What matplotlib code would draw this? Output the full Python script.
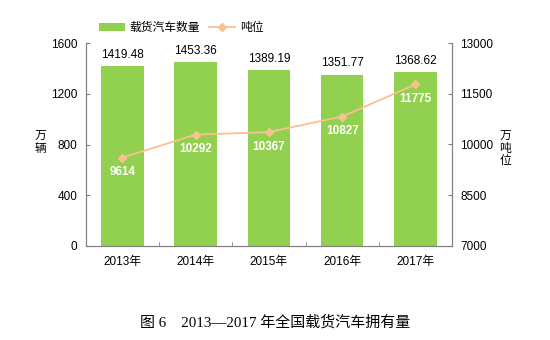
import matplotlib
matplotlib.use('Agg')
import matplotlib.pyplot as plt
import numpy as np

plt.rcParams['font.family'] = ['Liberation Sans', 'Noto Sans CJK SC', 'DejaVu Sans']

years = ['2013年', '2014年', '2015年', '2016年', '2017年']
trucks = [1419.48, 1453.36, 1389.19, 1351.77, 1368.62]
tonnage = [9614, 10292, 10367, 10827, 11775]

bar_color = '#92D050'
line_color = '#F9C18F'

fig = plt.figure(figsize=(5.5, 3.4), dpi=100)
ax = fig.add_axes([0.156, 0.2765, 0.666, 0.597])
x = np.arange(len(years))

ax.bar(x, trucks, width=0.58, color=bar_color, label='载货汽车数量', zorder=2)
for xi, v in zip(x, trucks):
    ax.text(xi, v + 40, f'{v:.2f}', ha='center', va='bottom', fontsize=8.5)

ax.set_ylim(0, 1600)
ax.set_yticks([0, 400, 800, 1200, 1600])
ax.set_xlim(-0.5, 4.5)
ax.set_xticks(x)
ax.set_xticklabels(years)
ax.set_xticks(np.arange(-0.5, 5, 1), minor=True)
ax.tick_params(axis='y', direction='in', length=3, labelsize=8.5, pad=6, color='#808080')
ax.tick_params(axis='x', which='major', length=0, labelsize=8.5, pad=7)
ax.tick_params(axis='x', which='minor', direction='in', length=3, color='#808080')
ax.spines['top'].set_visible(False)
for s in ['left', 'bottom', 'right']:
    ax.spines[s].set_color('#808080')
ax.set_ylabel('万\n辆', rotation=0, fontsize=8.5, va='center', linespacing=1.1)
ax.yaxis.set_label_coords(-0.125, 0.51)

ax2 = ax.twinx()
ax2.plot(x, tonnage, color=line_color, marker='D', markersize=3.8, lw=1.3, label='吨位', zorder=3)
for xi, v in zip(x, tonnage):
    ax2.annotate(f'{v}', (xi, v), xytext=(0, -10.5), textcoords='offset points',
                 ha='center', va='center', color='white', fontsize=8.5, fontweight='bold')
ax2.set_ylim(7000, 13000)
ax2.set_yticks([7000, 8500, 10000, 11500, 13000])
ax2.tick_params(axis='y', direction='in', length=3, labelsize=8.5, pad=6, color='#808080')
ax2.spines['top'].set_visible(False)
for s in ['left', 'bottom', 'right']:
    ax2.spines[s].set_color('#808080')
ax2.set_ylabel('万\n吨\n位', rotation=0, fontsize=8.5, va='center', linespacing=1.1)
ax2.yaxis.set_label_coords(1.145, 0.48)

h1, l1 = ax.get_legend_handles_labels()
h2, l2 = ax2.get_legend_handles_labels()
fig.legend(h1 + h2, l1 + l2, loc='center left', bbox_to_anchor=(0.16, 0.918), ncol=2,
           frameon=False, fontsize=8.5, handlelength=2.2, columnspacing=0.8, handletextpad=0.4)

fig.text(0.5, 0.053, '图 6　2013\u20142017 年全国载货汽车拥有量', ha='center', va='center',
         fontsize=10.8, family=['Liberation Serif', 'Noto Sans CJK SC'])

fig.savefig('out.png', dpi=100)
